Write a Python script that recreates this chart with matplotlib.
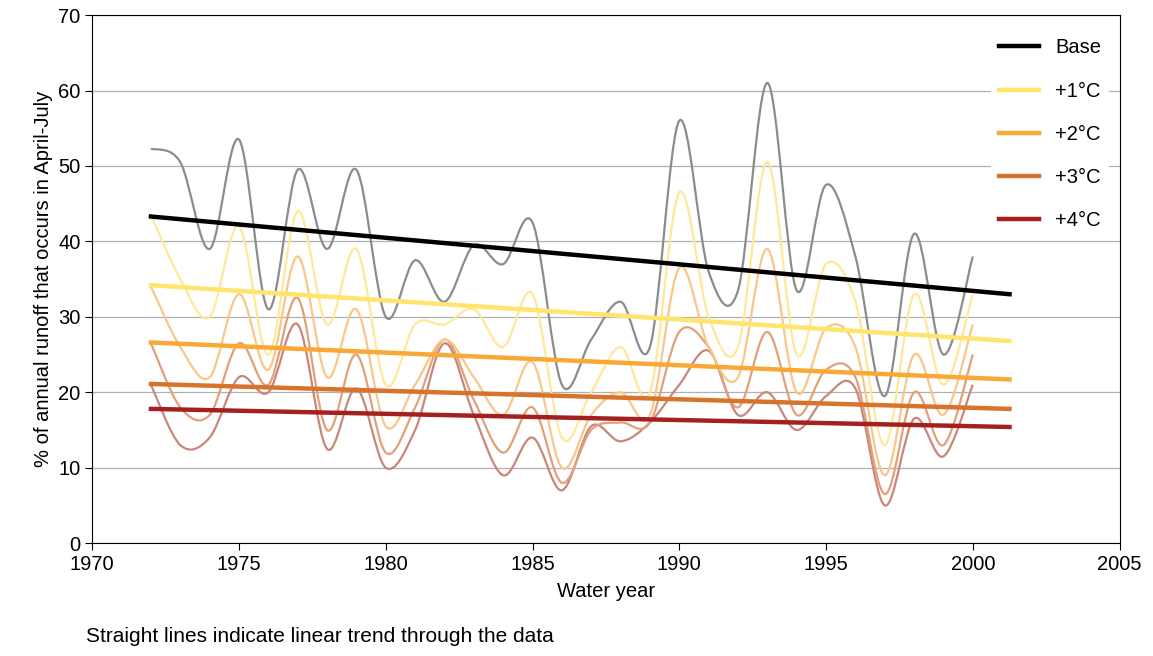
import numpy as np
import matplotlib.pyplot as plt
from matplotlib.path import Path
from matplotlib.patches import PathPatch

plt.rcParams['font.family'] = ['Liberation Sans', 'DejaVu Sans']

years = list(range(1972, 2001))
base = [52.3, 50.5, 39, 53.5, 31, 49.5, 39, 49.5, 30, 37.5, 32, 39.5, 37, 42.5, 21,
        27, 32, 26, 56, 36, 33.5, 61, 33.5, 47.5, 38, 19.5, 41, 25, 38]
plus1 = [43.5, 35, 30, 42, 25, 44, 29, 39, 21, 29, 29, 31, 26, 33, 14,
         20, 26, 20, 46.5, 30, 26, 50.5, 25, 37, 32, 13, 33, 21, 33]
plus2 = [34, 26, 22, 33, 23, 38, 22, 31, 15.5, 21, 27, 22, 17, 24, 10,
         17, 20, 17, 36.5, 26, 22, 39, 20, 28.5, 26, 9, 25, 17, 29]
plus3 = [26.5, 18, 17, 26.5, 21, 32.5, 15, 25, 12, 18, 27, 19, 12, 18, 8,
         15, 16, 16, 28, 26, 18, 28, 17, 23, 22, 6.5, 20, 13, 25]
plus4 = [21, 13, 14, 22, 20, 29, 12.5, 20.5, 10, 15, 26.5, 17, 9, 14, 7,
         15.5, 13.5, 16, 21, 25.5, 17, 20, 15, 19.5, 20.5, 5, 16.5, 11.5, 21]

trend_years = [1972, 2001.25]
trend_base = [43.3, 33.0]
trend_p1 = [34.2, 26.8]
trend_p2 = [26.6, 21.7]
trend_p3 = [21.1, 17.8]
trend_p4 = [17.8, 15.4]

labels = ['Base', '+1°C', '+2°C', '+3°C', '+4°C']
thin_colors = ['#8c8c8c', '#ffe89a', '#f8c78a', '#e3a078', '#c7877a']
trend_colors = ['#000000', '#ffe56b', '#f9a835', '#d8732b', '#a3201f']


def smooth_path(x, y):
    # Catmull-Rom style bezier, like a spreadsheet "smoothed line"
    x = np.asarray(x, float)
    y = np.asarray(y, float)
    verts = [(x[0], y[0])]
    codes = [Path.MOVETO]
    n = len(x)
    for i in range(n - 1):
        p0 = i - 1 if i > 0 else i
        p3 = i + 2 if i + 2 < n else i + 1
        c1 = (x[i] + (x[i + 1] - x[p0]) / 6, y[i] + (y[i + 1] - y[p0]) / 6)
        c2 = (x[i + 1] - (x[p3] - x[i]) / 6, y[i + 1] - (y[p3] - y[i]) / 6)
        verts += [c1, c2, (x[i + 1], y[i + 1])]
        codes += [Path.CURVE4] * 3
    return Path(verts, codes)


fig = plt.figure(figsize=(11.53, 6.56), dpi=100)
ax = fig.add_axes([0.08, 0.172, 0.891, 0.805])

series = [base, plus1, plus2, plus3, plus4]
trends = [trend_base, trend_p1, trend_p2, trend_p3, trend_p4]
for s, c in zip(series[::-1], thin_colors[::-1]):
    ax.add_patch(PathPatch(smooth_path(years, s), facecolor='none',
                           edgecolor=c, lw=1.6, zorder=2))
for t, c, lab in zip(trends, trend_colors, labels):
    ax.plot(trend_years, t, color=c, lw=3.2, label=lab, zorder=3)

ax.set_xlim(1970, 2005)
ax.set_ylim(0, 70)
ax.set_xticks(range(1970, 2006, 5))
ax.set_yticks(range(0, 71, 10))
ax.yaxis.grid(True, color='#b0b0b0', lw=0.9)
ax.set_axisbelow(True)
ax.tick_params(labelsize=14.5, direction='out', length=5)
for sp in ax.spines.values():
    sp.set_color('black')
ax.set_xlabel('Water year', fontsize=14.5, labelpad=6)
ax.set_ylabel('% of annual runoff that occurs in April-July', fontsize=14.5)

leg = ax.legend(loc='upper right', fontsize=14.5, frameon=True, edgecolor='none',
                facecolor='white', framealpha=1, labelspacing=1.2,
                handlelength=2.0, bbox_to_anchor=(1.0, 0.99))

fig.text(0.075, 0.022, 'Straight lines indicate linear trend through the data', fontsize=15)

fig.savefig('out.png', dpi=100)
